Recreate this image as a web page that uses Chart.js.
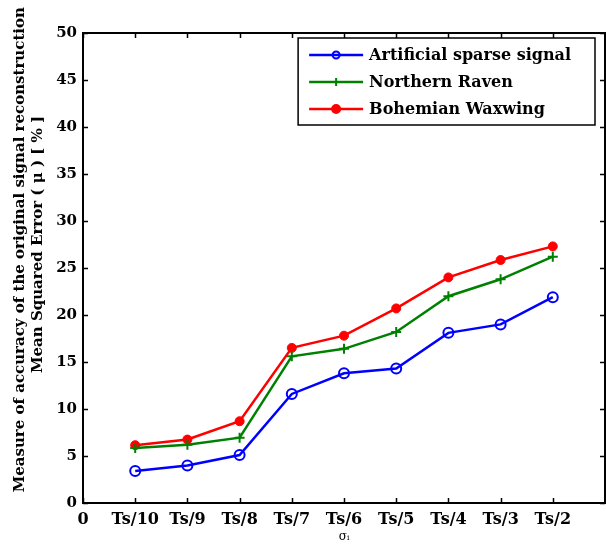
<!DOCTYPE html>
<html>
<head>
<meta charset="utf-8">
<script src="https://cdn.jsdelivr.net/npm/chart.js@4.4.1/dist/chart.umd.min.js"></script>
<style>
  html, body { margin: 0; padding: 0; background: #fff; overflow: hidden; }
  canvas { display: block; }
</style>
</head>
<body>
<canvas id="mseChart" width="606" height="545"></canvas>
<script>
// x categories (0 and the empty end slot carry no data)
const xLabels = ['0', 'Ts/10', 'Ts/9', 'Ts/8', 'Ts/7', 'Ts/6', 'Ts/5', 'Ts/4', 'Ts/3', 'Ts/2', ''];
const seriesNames = ['Artificial sparse signal', 'Northern Raven', 'Bohemian Waxwing'];
// values for Ts/10 .. Ts/2
const artificialSparse = [3.4, 4.0, 5.1, 11.6, 13.8, 14.3, 18.1, 19.0, 21.9];
const northernRaven = [5.85, 6.2, 6.95, 15.6, 16.4, 18.2, 22.0, 23.8, 26.2];
const bohemianWaxwing = [6.15, 6.75, 8.7, 16.5, 17.8, 20.7, 24.0, 25.85, 27.3];
// leading spaces nudge the centred title up a little
const yTitle = ['       Measure of accuracy of the original signal reconstruction', '         Mean Squared Error ( \u03bc ) [ % ]'];
const xTitle = '\u03c3\u1d62';

const FONT = 'DejaVu Serif';

function pad(vals) { return [null].concat(vals, [null]); }

// frame, inward ticks and MATLAB-like legend
const matlabFrame = {
  id: 'matlabFrame',
  afterDraw(chart) {
    const ctx = chart.ctx;
    const a = chart.chartArea;
    const xs = chart.scales.x, ys = chart.scales.y;
    const tl = 5;
    ctx.save();
    ctx.strokeStyle = '#000';
    ctx.lineWidth = 1.5;
    ctx.beginPath();
    xs.ticks.forEach((t, i) => {
      const px = Math.round(xs.getPixelForTick(i)) + 0.5;
      ctx.moveTo(px, a.bottom); ctx.lineTo(px, a.bottom - tl);
      ctx.moveTo(px, a.top); ctx.lineTo(px, a.top + tl);
    });
    ys.ticks.forEach(t => {
      const py = Math.round(ys.getPixelForValue(t.value)) + 0.5;
      ctx.moveTo(a.left, py); ctx.lineTo(a.left + tl, py);
      ctx.moveTo(a.right, py); ctx.lineTo(a.right - tl, py);
    });
    ctx.stroke();
    ctx.lineWidth = 2;
    ctx.strokeRect(a.left, a.top, a.right - a.left, a.bottom - a.top);

    // legend
    ctx.font = 'bold 16px ' + FONT;
    let maxW = 0;
    chart.data.datasets.forEach(d => { maxW = Math.max(maxW, ctx.measureText(d.label).width); });
    const bw = 71 + maxW + 24, bh = 87;
    const bx = a.right - 10 - bw, by = a.top + 5;
    ctx.fillStyle = '#fff';
    ctx.fillRect(bx, by, bw, bh);
    ctx.lineWidth = 1.5;
    ctx.strokeStyle = '#000';
    ctx.strokeRect(bx, by, bw, bh);
    chart.data.datasets.forEach((d, i) => {
      const cy = by + 17 + i * 27;
      ctx.strokeStyle = d.borderColor;
      ctx.lineWidth = 2.5;
      ctx.beginPath();
      ctx.moveTo(bx + 11, cy); ctx.lineTo(bx + 65, cy);
      ctx.stroke();
      ctx.fillStyle = d.pointBackgroundColor;
      ctx.strokeStyle = d.pointBorderColor;
      ctx.lineWidth = 2;
      Chart.helpers.drawPoint(ctx, { pointStyle: d.pointStyle, rotation: 0, radius: d.legendRadius, borderWidth: 2 }, bx + 38, cy);
      ctx.fillStyle = '#000';
      ctx.textBaseline = 'middle';
      ctx.textAlign = 'left';
      ctx.fillText(d.label, bx + 71, cy + 1);
    });
    ctx.restore();
  }
};

function drawChart() {
  const ctx = document.getElementById('mseChart').getContext('2d');
  new Chart(ctx, {
    type: 'line',
    data: {
      labels: xLabels,
      datasets: [
        {
          label: seriesNames[0], data: pad(artificialSparse),
          borderColor: '#0000ff', borderWidth: 2.5,
          pointStyle: 'circle', pointRadius: 5, legendRadius: 3.5,
          pointBackgroundColor: 'rgba(255,255,255,0)', pointBorderColor: '#0000ff', pointBorderWidth: 2
        },
        {
          label: seriesNames[1], data: pad(northernRaven),
          borderColor: '#008000', borderWidth: 2.5,
          pointStyle: 'cross', pointRadius: 5, legendRadius: 4,
          pointBackgroundColor: '#008000', pointBorderColor: '#008000', pointBorderWidth: 2
        },
        {
          label: seriesNames[2], data: pad(bohemianWaxwing),
          borderColor: '#ff0000', borderWidth: 2.5,
          pointStyle: 'circle', pointRadius: 4.5, legendRadius: 4,
          pointBackgroundColor: '#ff0000', pointBorderColor: '#ff0000', pointBorderWidth: 1
        }
      ]
    },
    options: {
      responsive: false,
      animation: false,
      spanGaps: false,
      layout: { autoPadding: false, padding: { top: 33, right: 1, left: 0, bottom: 0 } },
      plugins: {
        legend: { display: false },
        tooltip: { enabled: false }
      },
      scales: {
        x: {
          type: 'category',
          offset: false,
          // invisible tick marks give the label gap without adding side padding
          grid: { display: true, drawOnChartArea: false, drawTicks: true, tickLength: 7, tickColor: 'rgba(0,0,0,0)' },
          border: { display: false },
          ticks: {
            autoSkip: false, maxRotation: 0, minRotation: 0, padding: 0,
            color: '#000', font: { family: FONT, size: 16, weight: 'bold' }
          },
          title: {
            display: true, text: xTitle, color: '#000', padding: { top: 0, bottom: 1 },
            font: { family: FONT, size: 12 }
          },
          afterFit(scale) { scale.height = 42; }
        },
        y: {
          min: 0, max: 50,
          grid: { display: false, drawTicks: false },
          border: { display: false },
          ticks: {
            stepSize: 5, padding: 6,
            color: '#000', font: { family: FONT, size: 15, weight: 'bold' }
          },
          title: {
            display: true, text: yTitle, color: '#000', padding: { top: 11, bottom: 0 },
            font: { family: FONT, size: 15, weight: 'bold', lineHeight: 1.2 }
          },
          afterFit(scale) { scale.width = 83; }
        }
      }
    },
    plugins: [matlabFrame]
  });
}

Promise.all([
  document.fonts.load('bold 15px "DejaVu Serif"'),
  document.fonts.load('12px "DejaVu Serif"')
]).then(drawChart, drawChart);
</script>
</body>
</html>
